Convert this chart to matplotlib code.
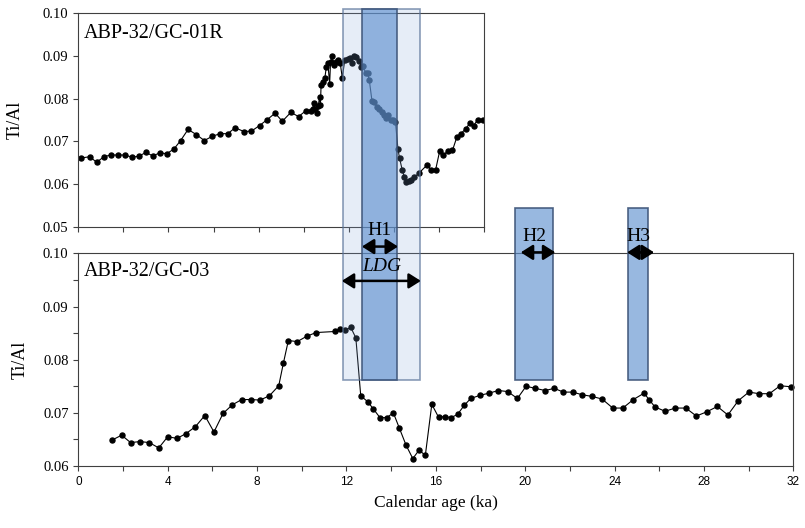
import matplotlib.pyplot as plt
from matplotlib.patches import Rectangle
from matplotlib.text import Annotation
from matplotlib.transforms import blended_transform_factory
from matplotlib.ticker import FormatStrFormatter

# Datos
# ABP-32/GC-01R
edad01 = [0.12, 0.51, 0.81, 1.14, 1.43, 1.76, 2.06, 2.38, 2.67, 3.00, 3.30, 3.62, 3.92, 4.24, 4.54,
          4.87, 5.23, 5.59, 5.95, 6.29, 6.63, 6.96, 7.34, 7.68, 8.04, 8.38, 8.73, 9.05, 9.43, 9.77,
          10.10, 10.32, 10.40, 10.44, 10.50, 10.58, 10.65, 10.70, 10.74, 10.77, 10.85, 10.94, 11.00,
          11.07, 11.15, 11.19, 11.26, 11.33, 11.42, 11.52, 11.62, 11.71, 11.82, 11.95, 12.04, 12.15,
          12.22, 12.34, 12.46, 12.56, 12.61, 12.76, 12.83, 12.91, 13.03, 13.12, 13.24, 13.36, 13.46,
          13.57, 13.66, 13.76, 13.87, 13.98, 14.07, 14.18, 14.25, 14.37, 14.46, 14.55, 14.66, 14.76,
          14.91, 15.10, 15.48, 15.66, 15.85, 16.03, 16.20, 16.40, 16.60, 16.80, 16.97, 17.18, 17.36,
          17.54, 17.72, 17.94]
tial01 = [0.0661, 0.0664, 0.0651, 0.0664, 0.0668, 0.0668, 0.0668, 0.0663, 0.0665, 0.0674, 0.0666,
          0.0673, 0.0671, 0.0682, 0.0702, 0.0728, 0.0716, 0.0702, 0.0712, 0.0718, 0.0718, 0.0732,
          0.0723, 0.0724, 0.0737, 0.0751, 0.0766, 0.0747, 0.0768, 0.0758, 0.0772, 0.0772, 0.0776,
          0.0789, 0.0776, 0.0766, 0.0784, 0.0804, 0.0786, 0.0831, 0.0839, 0.0849, 0.0874, 0.0883,
          0.0835, 0.0886, 0.0901, 0.0878, 0.0886, 0.0891, 0.0883, 0.0849, 0.0890, 0.0893, 0.0896,
          0.0884, 0.0899, 0.0898, 0.0888, 0.0874, 0.0877, 0.0860, 0.0860, 0.0843, 0.0794, 0.0793,
          0.0780, 0.0776, 0.0768, 0.0761, 0.0755, 0.0761, 0.0751, 0.0751, 0.0745, 0.0682, 0.0661,
          0.0633, 0.0617, 0.0605, 0.0608, 0.0610, 0.0616, 0.0625, 0.0645, 0.0632, 0.0633, 0.0677,
          0.0668, 0.0678, 0.0679, 0.0711, 0.0718, 0.0729, 0.0742, 0.0737, 0.0751, 0.0749]

# ABP-32/GC-03
edad03 = [1.52, 1.94, 2.34, 2.76, 3.18, 3.60, 4.00, 4.42, 4.82, 5.24, 5.66, 6.07, 6.48, 6.89, 7.31,
          7.73, 8.13, 8.55, 8.97, 9.18, 9.40, 9.80, 10.22, 10.64, 11.48, 11.70, 11.94, 12.19, 12.42,
          12.64, 12.95, 13.21, 13.50, 13.80, 14.10, 14.37, 14.67, 14.97, 15.25, 15.53, 15.82, 16.12,
          16.40, 16.68, 16.97, 17.27, 17.56, 17.98, 18.38, 18.80, 19.22, 19.65, 20.04, 20.46, 20.89,
          21.30, 21.71, 22.13, 22.55, 22.98, 23.44, 23.92, 24.37, 24.84, 25.32, 25.56, 25.81, 26.26,
          26.72, 27.19, 27.66, 28.13, 28.60, 29.07, 29.54, 30.01, 30.47, 30.93, 31.41, 31.89]
tial03 = [0.0649, 0.0658, 0.0644, 0.0646, 0.0644, 0.0634, 0.0655, 0.0652, 0.0661, 0.0674, 0.0695,
          0.0664, 0.0699, 0.0715, 0.0725, 0.0725, 0.0724, 0.0732, 0.0751, 0.0794, 0.0836, 0.0834,
          0.0844, 0.0851, 0.0853, 0.0857, 0.0855, 0.0861, 0.0841, 0.0732, 0.0721, 0.0707, 0.0691,
          0.0691, 0.0700, 0.0671, 0.0639, 0.0614, 0.0630, 0.0620, 0.0716, 0.0692, 0.0693, 0.0691,
          0.0697, 0.0714, 0.0727, 0.0733, 0.0737, 0.0742, 0.0740, 0.0727, 0.0750, 0.0746, 0.0742,
          0.0746, 0.0739, 0.0739, 0.0734, 0.0731, 0.0726, 0.0709, 0.0709, 0.0725, 0.0737, 0.0724,
          0.0711, 0.0703, 0.0709, 0.0709, 0.0694, 0.0702, 0.0712, 0.0696, 0.0723, 0.0739, 0.0736,
          0.0736, 0.0751, 0.0749]

# Intervalos (ka)
ldg = (11.86, 15.30)
ldgFlecha = (11.79, 15.33)
eventos = ["H1", "H2", "H3"]
inicio = [12.69, 19.56, 24.62]
fin = [14.28, 21.26, 25.51]
flechaIni = [12.69, 19.80, 24.56]
flechaFin = [14.31, 21.35, 25.77]

plt.rcParams['font.family'] = ['Liberation Serif', 'DejaVu Serif']
gris = '#404040'
estiloFlecha = dict(arrowstyle='<|-|>,head_length=0.6,head_width=0.38',
                    color='black', lw=1.8, mutation_scale=12, shrinkA=0, shrinkB=0)


def ejes(ax, ymin, ymax):
    for s in ax.spines.values():
        s.set_color(gris)
        s.set_linewidth(0.8)
    ax.set_ylim(ymin, ymax)
    ax.yaxis.set_major_formatter(FormatStrFormatter('%.2f'))
    ax.tick_params(which='both', direction='out', length=3.5, width=0.8, color=gris)
    ax.tick_params(axis='y', labelsize=10.5)
    ax.tick_params(axis='x', labelsize=8.5)
    for t in ax.get_xticklabels():
        t.set_family('Liberation Sans')


# Flecha doble sobre la figura (encima de los rectangulos)
def flecha(fig, tr, x0, x1, y):
    a = Annotation("", xy=(x0, y), xytext=(x1, y), xycoords=tr, textcoords=tr,
                   arrowprops=estiloFlecha, annotation_clip=False)
    a.set_zorder(6)
    fig.add_artist(a)


def main():
    fig = plt.figure(figsize=(8.05, 5.28), dpi=100)
    ax1 = fig.add_axes([0.0973, 0.5706, 0.504, 0.4042])
    ax2 = fig.add_axes([0.0973, 0.1174, 0.8882, 0.4028])

    # Panel superior
    ax1.plot(edad01, tial01, '-o', color='black', lw=0.8, ms=3.6)
    ax1.set_xlim(0, 18)
    ax1.set_xticks(range(0, 19, 2))
    ax1.set_yticks([0.05, 0.06, 0.07, 0.08, 0.09, 0.10])
    ejes(ax1, 0.05, 0.10)
    ax1.tick_params(axis='x', labelbottom=False)
    ax1.set_ylabel("Ti/Al", fontsize=13)
    ax1.yaxis.set_label_coords(-0.134, 0.5)
    ax1.text(0.014, 0.905, "ABP-32/GC-01R", transform=ax1.transAxes, fontsize=14.5, va='center')

    # Panel inferior
    ax2.plot(edad03, tial03, '-o', color='black', lw=0.8, ms=3.6, clip_on=False)
    ax2.set_xlim(0, 32)
    ax2.set_xticks(range(0, 33, 4))
    ax2.set_xticks(range(0, 33, 2), minor=True)
    ax2.set_yticks([0.06, 0.07, 0.08, 0.09, 0.10])
    ax2.set_yticks([0.065, 0.075, 0.085, 0.095], minor=True)
    ejes(ax2, 0.06, 0.10)
    ax2.set_ylabel("Ti/Al", fontsize=13)
    ax2.yaxis.set_label_coords(-0.070, 0.5)
    ax2.set_xlabel("Calendar age (ka)", fontsize=12.5, labelpad=5)
    ax2.text(0.008, 0.913, "ABP-32/GC-03", transform=ax2.transAxes, fontsize=14.5, va='center')

    # Rectangulos: x en datos, y en fraccion de figura
    tr = blended_transform_factory(ax2.transData, fig.transFigure)
    r = Rectangle((ldg[0], 0.280), ldg[1] - ldg[0], 0.983 - 0.280, transform=tr,
                  facecolor=(0.51, 0.65, 0.86, 0.2), edgecolor=(0.35, 0.45, 0.6, 0.7), lw=1.2, zorder=3)
    fig.add_artist(r)
    for i, ev in enumerate(eventos):
        techo = 0.983 if i == 0 else 0.607
        r = Rectangle((inicio[i], 0.280), fin[i] - inicio[i], techo - 0.280, transform=tr,
                      facecolor=(0.36, 0.56, 0.81, 0.63), edgecolor=(0.24, 0.33, 0.47, 0.9),
                      lw=1.2, zorder=4)
        fig.add_artist(r)
        yt, ya = (0.563, 0.533) if i == 0 else (0.553, 0.522)
        fig.text((inicio[i] + fin[i]) / 2, yt, ev, transform=tr, ha='center', va='center',
                 fontsize=14, zorder=6)
        flecha(fig, tr, flechaIni[i], flechaFin[i], ya)

    fig.text((ldg[0] + ldg[1]) / 2, 0.495, "LDG", transform=tr, ha='center', va='center',
             fontsize=14, style='italic', zorder=6)
    flecha(fig, tr, ldgFlecha[0], ldgFlecha[1], 0.468)

    fig.savefig("out.png", dpi=100)


main()
